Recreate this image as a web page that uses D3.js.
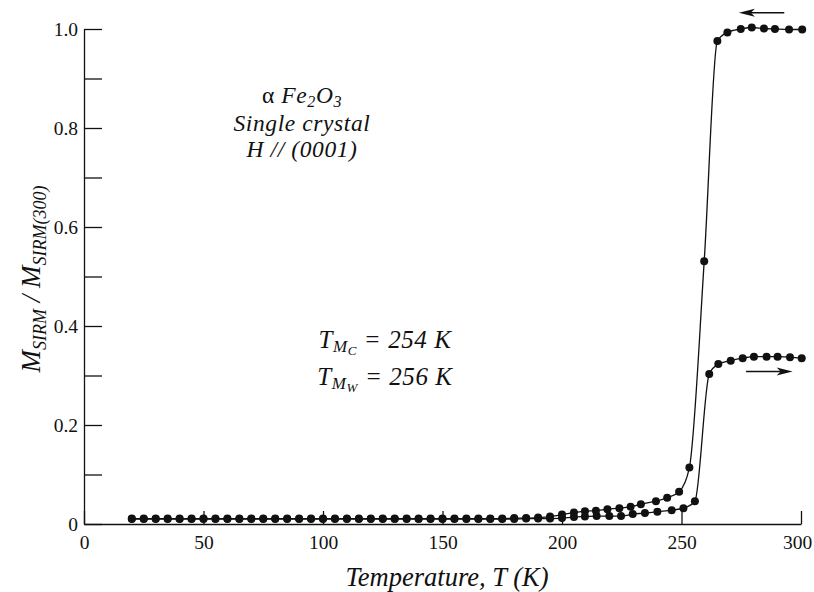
<!DOCTYPE html>
<html lang="en">

<head>
  <meta charset="UTF-8" />
  <script src="https://d3js.org/d3.v7.min.js"></script>
  <title>SIRM vs temperature</title>
  <style>
    body { margin: 0; background: #fff; }
    svg text { font-family: "Liberation Serif", "DejaVu Serif", serif !important; fill: #111; }
  </style>
</head>

<body>
  <svg width="814" height="592"></svg>

  <script>
    // cooling run (upper curve, arrow to the left)
    const coolT = [20, 25, 30, 35, 40, 45, 50, 55, 60, 65, 70, 75, 80, 85, 90, 95, 100, 105, 110, 115,
      120, 125, 130, 135, 140, 145, 150, 155, 160, 165, 170, 175, 180, 185, 190, 195,
      200, 205, 209.6, 214.2, 219, 224, 228.7, 233, 239.3, 244, 249, 253.3, 259.5,
      265, 269.2, 274.8, 279.4, 284.5, 289.1, 295, 300.5];
    const coolM = [0.011, 0.011, 0.011, 0.011, 0.011, 0.011, 0.011, 0.011, 0.011, 0.011, 0.011, 0.011, 0.011, 0.011, 0.011, 0.011, 0.011, 0.011, 0.011, 0.011,
      0.011, 0.011, 0.011, 0.011, 0.011, 0.011, 0.011, 0.011, 0.011, 0.011, 0.011, 0.011, 0.012, 0.012, 0.013, 0.015,
      0.019, 0.023, 0.026, 0.027, 0.030, 0.032, 0.035, 0.040, 0.046, 0.053, 0.065, 0.114, 0.531,
      0.976, 0.993, 1.0, 1.003, 1.001, 1.0, 0.999, 0.999];

    // warming run (lower curve, arrow to the right)
    const warmT = [20, 25, 30, 35, 40, 45, 50, 55, 60, 65, 70, 75, 80, 85, 90, 95, 100, 105, 110, 115,
      120, 125, 130, 135, 140, 145, 150, 155, 160, 165, 170, 175, 180, 185, 190, 195,
      200, 205, 209.6, 214.5, 219.8, 224.7, 229.6, 234.7, 239.9, 245.9, 250.8, 255.6,
      261.6, 265.4, 270.6, 275.6, 280.3, 285.6, 290.2, 295.4, 300.3];
    const warmM = [0.010, 0.010, 0.010, 0.010, 0.010, 0.010, 0.010, 0.010, 0.010, 0.010, 0.010, 0.010, 0.010, 0.010, 0.010, 0.010, 0.010, 0.010, 0.010, 0.010,
      0.010, 0.010, 0.010, 0.010, 0.010, 0.010, 0.010, 0.010, 0.010, 0.010, 0.010, 0.010, 0.010, 0.011, 0.011, 0.011,
      0.012, 0.014, 0.015, 0.016, 0.016, 0.016, 0.020, 0.022, 0.025, 0.028, 0.032, 0.046,
      0.303, 0.323, 0.330, 0.335, 0.338, 0.338, 0.338, 0.337, 0.335];

    const xTicks = [0, 50, 100, 150, 200, 250, 300];
    const yTicks = [0, 0.1, 0.2, 0.3, 0.4, 0.5, 0.6, 0.7, 0.8, 0.9, 1.0];
    const yTickLabels = ["0", "", "0.2", "", "0.4", "", "0.6", "", "0.8", "", "1.0"];

    const svg = d3.select("svg");

    const x = d3.scaleLinear().domain([0, 300]).range([84, 801]);
    const y = d3.scaleLinear().domain([0, 1]).range([524, 29]);

    // axes, ticks pointing inward
    const xAxis = svg.append("g")
      .attr("transform", `translate(0,${y(0)})`)
      .call(d3.axisBottom(x).tickValues(xTicks).tickSizeInner(-13).tickSizeOuter(0).tickPadding(11));

    const yAxis = svg.append("g")
      .attr("transform", `translate(${x(0)},0)`)
      .call(d3.axisLeft(y).tickValues(yTicks).tickSizeInner(-18).tickSizeOuter(0).tickPadding(6)
        .tickFormat((d, i) => yTickLabels[i]));

    [xAxis, yAxis].forEach(g => {
      g.attr("font-family", null);
      g.selectAll("path, line").attr("stroke", "#111").attr("stroke-width", 1.3);
      g.selectAll("text").attr("font-size", 19.5).attr("fill", "#111");
    });
    // last x label sits a little left of its tick, as in the original
    xAxis.selectAll(".tick text").filter(d => d === 300).attr("dx", -4);

    // curves
    const line = d3.line()
      .x(d => x(d[0]))
      .y(d => y(d[1]))
      .curve(d3.curveMonotoneX);

    const series = [d3.zip(coolT, coolM), d3.zip(warmT, warmM)];

    series.forEach(pts => {
      svg.append("path")
        .datum(pts)
        .attr("fill", "none")
        .attr("stroke", "#111")
        .attr("stroke-width", 1.3)
        .attr("d", line);

      svg.append("g")
        .selectAll("circle")
        .data(pts)
        .enter()
        .append("circle")
        .attr("cx", d => x(d[0]))
        .attr("cy", d => y(d[1]))
        .attr("r", 4)
        .attr("fill", "#111");
    });

    // direction arrows
    function arrow(t0, t1, v) {
      const x0 = x(t0), x1 = x(t1), yy = y(v);
      const dir = Math.sign(x1 - x0);
      svg.append("line")
        .attr("x1", x0).attr("y1", yy)
        .attr("x2", x1 - dir * 10).attr("y2", yy)
        .attr("stroke", "#111").attr("stroke-width", 1.5);
      svg.append("path")
        .attr("d", `M${x1},${yy} L${x1 - dir * 16},${yy - 4} L${x1 - dir * 12},${yy} L${x1 - dir * 16},${yy + 4} Z`)
        .attr("fill", "#111");
    }
    arrow(293, 274, 1.033);
    arrow(277, 296.5, 0.308);

    // annotations
    const note = svg.append("g")
      .attr("font-size", 23.5)
      .attr("letter-spacing", 0.6)
      .attr("font-style", "italic")
      .attr("text-anchor", "middle");

    const t1 = note.append("text").attr("x", 302).attr("y", 103);
    t1.append("tspan").attr("font-style", "normal").text("α ");
    t1.append("tspan").text("Fe");
    t1.append("tspan").attr("font-size", 16).attr("dy", 4).text("2");
    t1.append("tspan").attr("dy", -4).text("O");
    t1.append("tspan").attr("font-size", 16).attr("dy", 4).text("3");

    note.append("text").attr("x", 302).attr("y", 131).text("Single crystal");
    note.append("text").attr("x", 302).attr("y", 157).text("H // (0001)");

    function tm(sub, val, yy) {
      const t = note.append("text").attr("x", 385).attr("y", yy).attr("font-size", 25);
      t.append("tspan").text("T");
      t.append("tspan").attr("font-size", 17).attr("dy", 4).text("M");
      t.append("tspan").attr("font-size", 13).attr("dy", 3).text(sub);
      t.append("tspan").attr("dy", -7).text(" = " + val + " K");
    }
    tm("C", 254, 348);
    tm("W", 256, 385);

    // axis titles
    svg.append("text")
      .attr("x", 447).attr("y", 586)
      .attr("text-anchor", "middle")
      .attr("font-size", 26.5)
      .attr("font-style", "italic")
      .text("Temperature, T (K)");

    const yl = svg.append("text")
      .attr("transform", "translate(40,279) rotate(-90)")
      .attr("text-anchor", "middle")
      .attr("font-size", 27)
      .attr("font-style", "italic");
    yl.append("tspan").text("M");
    yl.append("tspan").attr("font-size", 18).attr("dy", 6).text("SIRM");
    yl.append("tspan").attr("dy", -6).text(" / M");
    yl.append("tspan").attr("font-size", 18).attr("dy", 6).text("SIRM(300)");
  </script>
</body>

</html>
